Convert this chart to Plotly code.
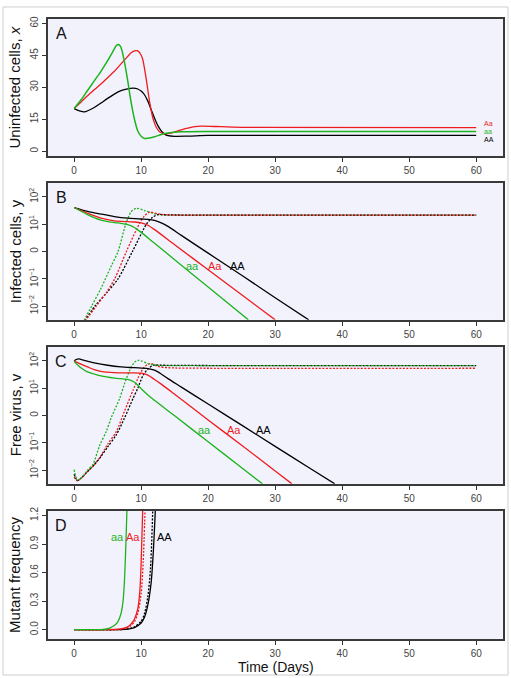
import numpy as np
import plotly.graph_objects as go

W, H = 511, 678
GREEN = "#1db31d"
RED = "#ee1c1c"
BLACK = "#000000"
FONT = "Liberation Sans, Arial, sans-serif"

# ---------------- Panel A: uninfected cells x ----------------
A_t_AA = [0, 0.8, 1.6, 3, 4, 5, 6, 7, 8, 8.8, 9.5, 10, 10.5, 11, 11.5, 12, 12.5, 13, 13.5, 14, 15, 17, 20, 25, 60]
A_AA = [20, 18.9, 18.5, 20.5, 22.6, 24.8, 26.8, 28.4, 29.3, 29.6, 29.2, 28.2, 26.5, 23.5, 19.5, 15.5, 12, 9.5, 8.0, 7.3, 7.0, 7.1, 7.4, 7.4, 7.4]
A_t_Aa = [0, 1, 2, 3, 4, 5, 6, 7, 8, 8.5, 9.0, 9.4, 9.8, 10.2, 10.7, 11.3, 11.8, 12.3, 12.8, 13.7, 14.5, 16, 18, 19, 21, 25, 60]
A_Aa = [20, 23, 26, 28.8, 31.5, 34.5, 37.5, 41, 44.5, 46.2, 47.1, 47.2, 46.2, 43.5, 35, 22.5, 15, 11, 9, 8.1, 8.5, 10, 11.5, 11.8, 11.6, 11.2, 11.1]
A_t_aa = [0, 1, 2, 3, 4, 5, 6, 6.3, 6.6, 6.9, 7.2, 7.5, 8, 8.5, 9, 9.5, 10, 10.5, 11, 12, 13, 14, 16, 20, 60]
A_aa = [20, 24, 28.5, 33, 37.5, 42.5, 48, 49.6, 50.1, 49.3, 46.5, 42, 33, 23, 15, 9.5, 7, 6.0, 6.1, 6.8, 7.8, 8.5, 9.1, 9.3, 9.2]

# ---------------- Panel B: infected cells y (log10 values) ----------------
B_t_AA = [0, 2, 4, 6, 8, 10, 12, 13, 14, 16, 20, 25, 30, 35]
B_AA_log10 = [1.61, 1.47, 1.37, 1.28, 1.22, 1.19, 1.14, 1.05, 0.92, 0.59, -0.06, -0.87, -1.69, -2.5]
B_t_Aa = [0, 2, 4, 6, 8, 9, 10, 11, 12, 15, 20, 25, 30]
B_Aa_log10 = [1.61, 1.40, 1.22, 1.12, 1.09, 1.08, 1.05, 0.96, 0.80, 0.25, -0.67, -1.58, -2.5]
B_t_aa = [0, 2, 4, 6, 7, 8, 9, 10, 12, 15, 20, 26]
B_aa_log10 = [1.61, 1.35, 1.15, 1.06, 1.03, 0.98, 0.88, 0.70, 0.30, -0.30, -1.30, -2.5]
B_t_aa_mut = [1.0, 2.6, 4, 5.5, 6.55, 7.7, 8.5, 9.3, 10.5, 12, 13, 20, 60]
B_aa_mut_log10 = [-2.75, -2.0, -1.35, -0.55, 0.0, 1.0, 1.45, 1.58, 1.5, 1.38, 1.34, 1.33, 1.33]
B_t_Aa_mut = [1.0, 3.3, 4.8, 6.05, 7.8, 9.7, 10.5, 11.3, 12.5, 14, 20, 60]
B_Aa_mut_log10 = [-2.75, -2.0, -1.5, -1.0, 0.0, 1.0, 1.3, 1.44, 1.38, 1.34, 1.33, 1.33]
B_t_AA_mut = [1.0, 3.1, 4.9, 6.55, 8.7, 10.8, 11.7, 12.5, 14, 20, 60]
B_AA_mut_log10 = [-2.75, -2.0, -1.5, -1.0, 0.0, 1.0, 1.25, 1.35, 1.34, 1.33, 1.33]

# ---------------- Panel C: free virus v (log10 values) ----------------
C_t_AA = [0, 0.3, 0.7, 1.5, 3, 5, 7, 9, 11, 12, 13, 14, 16, 20, 25, 30, 35, 38.9]
C_AA_log10 = [2.0, 2.05, 2.07, 2.02, 1.93, 1.84, 1.78, 1.75, 1.72, 1.66, 1.52, 1.35, 1.04, 0.42, -0.35, -1.13, -1.9, -2.5]
C_t_Aa = [0, 1, 2, 3, 4, 6, 8, 10, 11, 12, 13, 15, 20, 25, 30, 32.5]
C_Aa_log10 = [2.0, 1.88, 1.78, 1.68, 1.62, 1.57, 1.56, 1.55, 1.48, 1.32, 1.15, 0.78, -0.16, -1.09, -2.03, -2.5]
C_t_aa = [0, 1, 2, 3, 4, 6, 8, 9, 10, 11, 15, 20, 25, 28.1]
C_aa_log10 = [1.98, 1.75, 1.6, 1.52, 1.45, 1.37, 1.32, 1.22, 0.98, 0.75, -0.01, -0.96, -1.91, -2.5]
C_t_aa_mut = [0, 0.2, 0.5, 1, 2, 2.8, 3.8, 4.8, 5.5, 6.8, 7.5, 8.3, 9.0, 9.5, 10, 11, 12, 13, 20, 60]
C_aa_mut_log10 = [-1.98, -2.2, -2.35, -2.3, -2.0, -1.79, -1.1, -0.58, -0.1, 0.63, 1.15, 1.66, 1.95, 2.02, 2.0, 1.9, 1.85, 1.83, 1.83, 1.83]
C_t_Aa_mut = [0, 0.4, 1, 2, 3, 3.8, 5, 6.3, 7.5, 8.8, 9.5, 10.3, 11, 11.5, 12.5, 14, 20, 60]
C_Aa_mut_log10 = [-2.25, -2.38, -2.3, -2.05, -1.8, -1.55, -1.05, -0.58, 0.15, 0.93, 1.35, 1.72, 1.88, 1.9, 1.8, 1.75, 1.73, 1.73]
C_t_AA_mut = [0, 0.5, 1, 2, 3, 4, 5, 6.3, 7.5, 8.8, 9.5, 10.3, 11, 11.8, 13, 20, 60]
C_AA_mut_log10 = [-2.15, -2.38, -2.3, -2.05, -1.8, -1.5, -1.15, -0.7, -0.1, 0.63, 1.0, 1.48, 1.7, 1.84, 1.84, 1.83, 1.83]

# ---------------- Panel D: mutant frequency ----------------
D_t_aa = [0, 3, 4, 5, 5.5, 6, 6.5, 7, 7.3, 7.5, 7.7, 7.9]
D_aa = [0, 0, 0.001, 0.01, 0.025, 0.045, 0.08, 0.17, 0.3, 0.5, 0.85, 1.3]
D_t_Aa = [0, 5, 6, 7, 8, 8.5, 9, 9.5, 9.8, 10, 10.25]
D_Aa = [0, 0, 0.002, 0.008, 0.03, 0.06, 0.11, 0.22, 0.4, 0.7, 1.3]
D_t_Aa_dot = [0, 5, 6, 7, 8, 8.5, 9, 9.5, 10, 10.3, 10.6]
D_Aa_dot = [0, 0, 0.001, 0.006, 0.022, 0.045, 0.085, 0.17, 0.38, 0.7, 1.3]
D_t_AA_dot = [0, 6, 7, 8, 9, 10, 10.5, 11, 11.4, 11.75]
D_AA_dot = [0, 0, 0.002, 0.01, 0.03, 0.09, 0.17, 0.35, 0.65, 1.3]
D_t_AA = [0, 6, 7, 8, 9, 10, 10.5, 11, 11.5, 11.8, 12.15]
D_AA = [0, 0, 0.001, 0.006, 0.022, 0.07, 0.13, 0.26, 0.5, 0.8, 1.3]

x_ticks = [0, 10, 20, 30, 40, 50, 60]
A_ticks = [0, 15, 30, 45, 60]
log_tickvals = [0.01, 0.1, 1, 10, 100]
log_ticktext = ["10<sup>\u22122</sup>", "10<sup>\u22121</sup>", "0", "10<sup>1</sup>", "10<sup>2</sup>"]
D_ticks = [0.0, 0.3, 0.6, 0.9, 1.2]
D_ticktext = ["0.0", "0.3", "0.6", "0.9", "1.2"]

fig = go.Figure()


def add(t, v, color, ax, dash=None, width=1.3, log=False):
    y = np.power(10.0, np.array(v)) if log else v
    line = dict(color=color, width=width, shape="spline", smoothing=0.8)
    if dash:
        line["dash"] = dash
    fig.add_trace(go.Scatter(x=t, y=y, mode="lines", line=line,
                             xaxis="x" + ax, yaxis="y" + ax,
                             showlegend=False, hoverinfo="skip"))


DOT = "2px,1.5px"
# A
add(A_t_AA, A_AA, BLACK, "")
add(A_t_Aa, A_Aa, RED, "")
add(A_t_aa, A_aa, GREEN, "", width=1.5)
# B
add(B_t_aa_mut, B_aa_mut_log10, GREEN, "2", DOT, 1.3, True)
add(B_t_AA_mut, B_AA_mut_log10, BLACK, "2", DOT, 1.3, True)
add(B_t_Aa_mut, B_Aa_mut_log10, RED, "2", DOT, 1.3, True)
add(B_t_AA, B_AA_log10, BLACK, "2", None, 1.3, True)
add(B_t_Aa, B_Aa_log10, RED, "2", None, 1.3, True)
add(B_t_aa, B_aa_log10, GREEN, "2", None, 1.3, True)
# C
add(C_t_Aa_mut, C_Aa_mut_log10, RED, "3", DOT, 1.3, True)
add(C_t_AA_mut, C_AA_mut_log10, BLACK, "3", DOT, 1.3, True)
add(C_t_aa_mut, C_aa_mut_log10, GREEN, "3", DOT, 1.3, True)
add(C_t_AA, C_AA_log10, BLACK, "3", None, 1.3, True)
add(C_t_Aa, C_Aa_log10, RED, "3", None, 1.3, True)
add(C_t_aa, C_aa_log10, GREEN, "3", None, 1.3, True)
# D
add(D_t_AA_dot, D_AA_dot, BLACK, "4", DOT)
add(D_t_AA, D_AA, BLACK, "4")
add(D_t_Aa_dot, D_Aa_dot, RED, "4", DOT)
add(D_t_Aa, D_Aa, RED, "4")
add(D_t_aa, D_aa, GREEN, "4")

# domains (pixel -> paper)
x0, x1 = 48 / W, 503 / W
panels_px = [(15, 153), (179.7, 317.7), (344.7, 482.7), (509.7, 639)]
doms = [[1 - b / H, 1 - t / H] for t, b in panels_px]

axis_common = dict(showgrid=False, zeroline=False, showline=True, mirror=True,
                   linecolor="#3a3a3a", linewidth=2, ticks="outside", ticklen=4,
                   tickwidth=1, tickcolor="#333", tickfont=dict(size=10, color="#444", family=FONT))

layout = dict(width=W, height=H, margin=dict(l=0, r=0, t=0, b=0),
              paper_bgcolor="white", plot_bgcolor="#F2F2FD",
              font=dict(family=FONT, color="#222"), showlegend=False)

names = ["", "2", "3", "4"]
for i, n in enumerate(names):
    layout["xaxis" + n] = dict(axis_common, domain=[x0, x1], range=[-3.9, 64],
                               tickvals=x_ticks, anchor="y" + n)
layout["yaxis"] = dict(axis_common, tickangle=-90, domain=doms[0], range=[-2.3, 62.1],
                       tickvals=A_ticks, anchor="x")
layout["yaxis2"] = dict(axis_common, tickangle=-90, domain=doms[1], type="log", range=[-2.5, 2.52],
                        tickvals=log_tickvals, ticktext=log_ticktext, anchor="x2")
layout["yaxis3"] = dict(axis_common, tickangle=-90, domain=doms[2], type="log", range=[-2.5, 2.52],
                        tickvals=log_tickvals, ticktext=log_ticktext, anchor="x3")
layout["yaxis4"] = dict(axis_common, tickangle=-90, domain=doms[3], range=[-0.1, 1.25],
                        tickvals=D_ticks, ticktext=D_ticktext, anchor="x4")
fig.update_layout(**layout)

ann = []
# Panel letters
for letter, (t, b) in zip("ABCD", panels_px):
    ann.append(dict(text=letter, x=61 / W, y=1 - (t + 14.5) / H, xref="paper", yref="paper",
                    showarrow=False, font=dict(size=16, color="#111"), xanchor="center", yanchor="middle"))
# Y titles
ytitles = ["Uninfected cells, <i>x</i>", "Infected cells, y", "Free virus, v", "Mutant frequency"]
for title, (t, b) in zip(ytitles, panels_px):
    ann.append(dict(text=title, x=15 / W, y=1 - (t + b) / 2 / H, xref="paper", yref="paper",
                    textangle=-90, showarrow=False, font=dict(size=15, color="#111"),
                    xanchor="center", yanchor="middle"))
# X title
ann.append(dict(text="Time (Days)", x=(48 + 503) / 2 / W, y=1 - 666.5 / H, xref="paper", yref="paper",
                showarrow=False, font=dict(size=14, color="#111"), xanchor="center", yanchor="middle"))

# Panel A end labels
for txt, yv, col in [("Aa", 13.0, RED), ("aa", 9.3, GREEN), ("AA", 5.6, BLACK)]:
    ann.append(dict(text=txt, x=60.8, y=yv, xref="x", yref="y", showarrow=False,
                    font=dict(size=7, color=col), xanchor="left", yanchor="middle"))
# Panels B, C, D labels
for ax, pos in [("2", [(17.6, -0.52), (21.0, -0.52), (24.4, -0.52)]),
                ("3", [(19.4, -0.52), (23.8, -0.52), (28.2, -0.52)]),
                ("4", [(6.4, 0.97), (8.85, 0.97), (13.5, 0.97)])]:
    for (xv, yv), txt, col in zip(pos, ["aa", "Aa", "AA"], [GREEN, RED, BLACK]):
        ann.append(dict(text=txt, x=xv, y=yv, xref="x" + ax, yref="y" + ax, showarrow=False,
                        font=dict(size=11, color=col), xanchor="center", yanchor="middle"))
fig.update_layout(annotations=ann)

fig.add_shape(type="rect", xref="paper", yref="paper", x0=3 / W, x1=508 / W, y0=1 - 675 / H, y1=1 - 3 / H,
              line=dict(color="#cfcfcf", width=1), layer="below")

fig.write_html("out.html", config={"displayModeBar": False},
               post_script="document.body.style.margin='0';document.body.style.overflow='hidden';")
